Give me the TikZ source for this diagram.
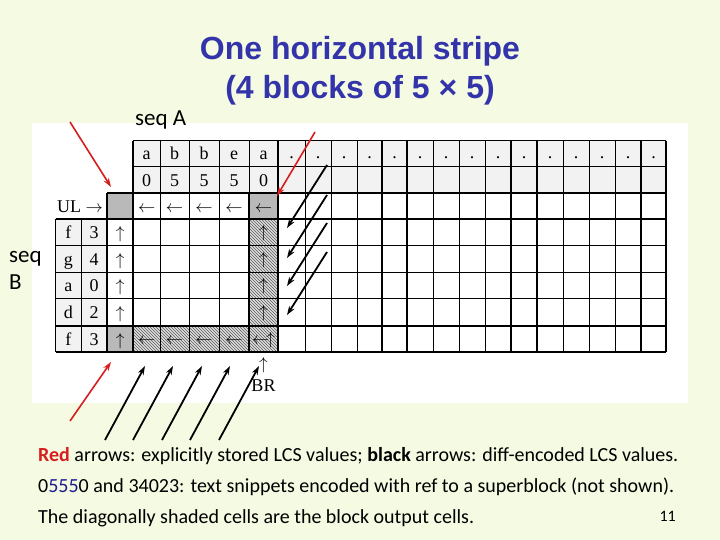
\documentclass[tikz,border=0pt]{standalone}
\usepackage{fontspec}
\setmainfont{Carlito}
\newfontfamily\titlefont{Liberation Sans}
\newfontfamily\tabfont{Liberation Serif}
\usetikzlibrary{patterns,arrows.meta}
\definecolor{slidebg}{RGB}{245,250,226}
\definecolor{titleblue}{RGB}{51,51,170}
\definecolor{arrowred}{RGB}{215,30,30}
\definecolor{snipblue}{RGB}{30,30,140}
\newcommand{\la}{$\leftarrow$}
\newcommand{\ua}{$\uparrow$}
\tikzset{cell/.style={font=\tabfont\fontsize{18}{18}\selectfont, inner sep=0pt, anchor=base},
  faintcell/.style={cell, font=\tabfont\fontsize{16}{16}\selectfont, text=black},
  thingrid/.style={line width=0.8pt},
  thickgrid/.style={line width=2.2pt},
  redarrow/.style={arrowred, line width=1.6pt, -{Stealth[length=9pt,width=6pt]}},
  blackarrow/.style={black, line width=1.8pt, -{Stealth[length=9pt,width=6pt]}},
  hatched/.style={fill=gray!25, postaction={pattern=north west lines, pattern color=gray!70!black}},
  darkcell/.style={fill=gray!55},
  headcell/.style={fill=gray!10},
  slidetext/.style={font=\fontsize{20}{24}\selectfont, anchor=base west, inner sep=0pt},
  seqtext/.style={font=\fontsize{23}{24}\selectfont, anchor=base west, inner sep=0pt}}

\begin{document}
\begin{tikzpicture}[x=1pt,y=-1pt]
    \fill[slidebg] (0,0) rectangle (720,540);
    \fill[white] (31.7,122.7) rectangle (688,402.7);
    \node[font=\titlefont\bfseries\fontsize{32}{36}\selectfont, text=titleblue, anchor=base] (title1) at (360,60) {One horizontal stripe};
    \node[font=\titlefont\bfseries\fontsize{32}{36}\selectfont, text=titleblue, anchor=base] (title2) at (360,99) {(4 blocks of 5 × 5)};
    \node[seqtext] (seqA) at (135,126) {seq A};
    \node[seqtext] (seqB1) at (9,262) {seq};
    \node[seqtext] (seqB2) at (9,289) {B};
    \fill[headcell] (133.3,140.7) rectangle (666,193.3);
    \fill[headcell] (55.7,219.3) rectangle (107.3,352.3);
    \fill[darkcell] (107.3,193.3) rectangle (133.3,219.3);
    \fill[darkcell] (249,193.3) rectangle (278,219.3);
    \fill[darkcell] (107.3,325.7) rectangle (133.3,352.3);
    \path[hatched] (249,219.3) rectangle (278,352.3);
    \path[hatched] (133.3,325.7) rectangle (249,352.3);
    \foreach \x in {133.3,160,189,219,249,278,305,331,357,382,407,433,459,485,511,537,563,589,615,641,666}
        \draw[thingrid] (\x,140.7) -- (\x,352.3);
    \foreach \y in {140.7,166.7}
        \draw[thingrid] (133.3,\y) -- (666,\y);
    \foreach \y in {245,272.3,298.3}
        \draw[thingrid] (55.7,\y) -- (666,\y);
    \draw[thingrid] (55.7,219.3) -- (55.7,352.3) (81,219.3) -- (81,352.3);
    \draw[thickgrid] (107.3,193.3) -- (666,193.3) (55.7,219.3) -- (666,219.3) (55.7,325.7) -- (666,325.7) (55.7,352.3) -- (666,352.3);
    \draw[thickgrid] (107.3,193.3) -- (107.3,352.3) (249,193.3) -- (249,352.3);
    \foreach \x in {133.3,278,382,407,511,537,641,666}
        \draw[thickgrid] (\x,140.7) -- (\x,352.3);
    \foreach \c/\a/\n [count=\i] in {146.7/a/0,174.5/b/5,204/b/5,234/e/5,263.5/a/0} {
        \node[cell] (char\i) at (\c,160) {\a};
        \node[cell] (num\i) at (\c,186.5) {\n};
        \node[cell] (ul\i) at (\c,212.5) {\la};
    }
    \foreach \c [count=\i] in {291.5,318,344,369.5,394.5,420,446,472,498,524,550,576,602,628,653.5}
        \node[cell] (dot\i) at (\c,159) {.};
    \node[cell] (ullabel) at (80,212.5) {UL $\rightarrow$};
    \foreach \r/\b/\k [count=\i] in {238.5/f/3,265/g/4,291.5/a/0,318/d/2,345.5/f/3} {
        \node[cell] (rowch\i) at (68.3,\r) {\b};
        \node[cell] (rownum\i) at (94.2,\r) {\k};
        \node[cell] (up\i) at (120.3,\r) {\ua};
    }
    \foreach \r [count=\i] in {237.5,264,290.5,317}
        \node[faintcell] (outup\i) at (263.5,\r) {\ua};
    \foreach \c [count=\i] in {146.7,174.5,204,234}
        \node[faintcell] (outleft\i) at (\c,344) {\la};
    \node[faintcell] (outcorner) at (263.5,344) {\la\hspace{-3pt}\ua};
    \node[cell] (brup) at (263.5,369) {\ua};
    \node[cell] (brlabel) at (263.5,391) {BR};
    \coordinate (ra1) at (70,122);  \coordinate (re1) at (111,187);
    \coordinate (ra2) at (315,132); \coordinate (re2) at (277,196);
    \coordinate (ra3) at (70,421);  \coordinate (re3) at (111,362);
    \draw[redarrow] (ra1) -- (re1);
    \draw[redarrow] (ra2) -- (re2);
    \draw[redarrow] (ra3) -- (re3);
    \foreach \s [count=\i] in {105,133,162,190,219}
        \draw[blackarrow] (\s,440) coordinate (ba\i) -- ++(40,-74) coordinate (be\i);
    \foreach \s [count=\i] in {165,195,223,252}
        \draw[blackarrow] (327,\s) coordinate (ka\i) -- ++(-40,63) coordinate (ke\i);
    \node[slidetext] (line1) at (38,461) {\textcolor{arrowred}{\textbf{Red}} arrows: explicitly stored LCS values; \textbf{black} arrows: diff-encoded LCS values.};
    \node[slidetext] (line2) at (38,492) {0\textcolor{snipblue}{555}0 and 34023: text snippets encoded with ref to a superblock (not shown).};
    \node[slidetext] (line3) at (38,523) {The diagonally shaded cells are the block output cells.};
    \node[font=\fontsize{16}{18}\selectfont, anchor=base east, inner sep=0pt] (pagenum) at (676,521) {11};
\end{tikzpicture}
\end{document}
